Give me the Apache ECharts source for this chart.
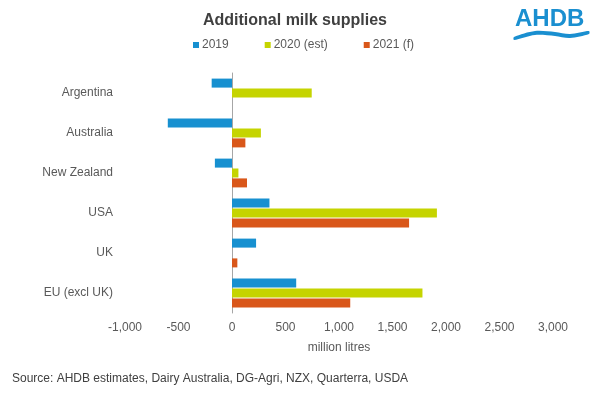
<!DOCTYPE html>
<html><head><meta charset="utf-8">
<script src="https://cdn.jsdelivr.net/npm/echarts@6/dist/echarts.min.js"></script>
<style>html,body{margin:0;padding:0;background:#fff}#c{width:590px;height:395px}</style>
</head><body><div id="c"></div>
<script>
const categories = ['Argentina', 'Australia', 'New Zealand', 'USA', 'UK', 'EU (excl UK)'];
const s2019 = [-190, -600, -160, 350, 225, 600];
const s2020 = [745, 270, 60, 1915, 0, 1780];
const s2021 = [0, 125, 140, 1655, 50, 1105];
const seriesNames = ['2019', '2020 (est)', '2021 (f)'];
const xTicks = { min: -1000, max: 3000, interval: 500 };

const colors = ['#1790d0', '#c5d400', '#d9571a'];
const chart = echarts.init(document.getElementById('c'), null, { renderer: 'canvas' });
const fmt = v => (v < 0 ? '-' : '') + Math.abs(v).toLocaleString('en-US');
const mk = (name, data, i) => ({
  name, type: 'bar', data, barWidth: 9, barGap: '10%',
  itemStyle: { color: colors[i] }
});
chart.setOption({
  animation: false,
  title: {
    text: 'Additional milk supplies', left: 'center', top: 8,
    textStyle: { fontFamily: 'Liberation Sans, Arial', fontSize: 16, fontWeight: 'bold', color: '#404040' }
  },
  legend: {
    top: 34, left: 188, itemWidth: 6, itemHeight: 6, itemGap: 36, icon: 'rect',
    textStyle: { fontFamily: 'Liberation Sans, Arial', fontSize: 12, color: '#595959', padding: [0, 0, 0, -2] },
    data: seriesNames
  },
  grid: { left: 125, right: 37, top: 73, bottom: 82, containLabel: false },
  xAxis: {
    type: 'value', min: xTicks.min, max: xTicks.max, interval: xTicks.interval,
    name: 'million litres', nameLocation: 'middle', nameGap: 29,
    nameTextStyle: { fontFamily: 'Liberation Sans, Arial', fontSize: 12, color: '#595959' },
    axisLine: { show: false }, axisTick: { show: false }, splitLine: { show: false },
    axisLabel: { fontFamily: 'Liberation Sans, Arial', fontSize: 12, color: '#595959', margin: 9, formatter: fmt }
  },
  yAxis: {
    type: 'category', data: categories, inverse: true,
    axisLine: { show: true, onZero: true, lineStyle: { color: '#a6a6a6', width: 1 } },
    axisTick: { show: false },
    axisLabel: { fontFamily: 'Liberation Sans, Arial', fontSize: 12, color: '#595959', margin: 12 }
  },
  series: [mk(seriesNames[0], s2019, 0), mk(seriesNames[1], s2020, 1), mk(seriesNames[2], s2021, 2)],
  graphic: [
    { type: 'text', left: 12, top: 373, style: { text: 'Source: AHDB estimates, Dairy Australia, DG-Agri, NZX, Quarterra, USDA', font: '12px "Liberation Sans", Arial', fill: '#404040' } },
    { type: 'text', left: 515, top: 7, style: { text: 'AHDB', font: 'bold 24px "Liberation Sans", Arial', fill: '#1a8fd0' } },
    { type: 'polygon', shape: { points: [[514, 37], [535, 31], [555, 32], [570, 34], [589, 31], [589, 34], [570, 38], [555, 36], [535, 35], [514, 40]], smooth: 0.3 }, style: { fill: '#1a8fd0' } }
  ]
});
</script></body></html>
